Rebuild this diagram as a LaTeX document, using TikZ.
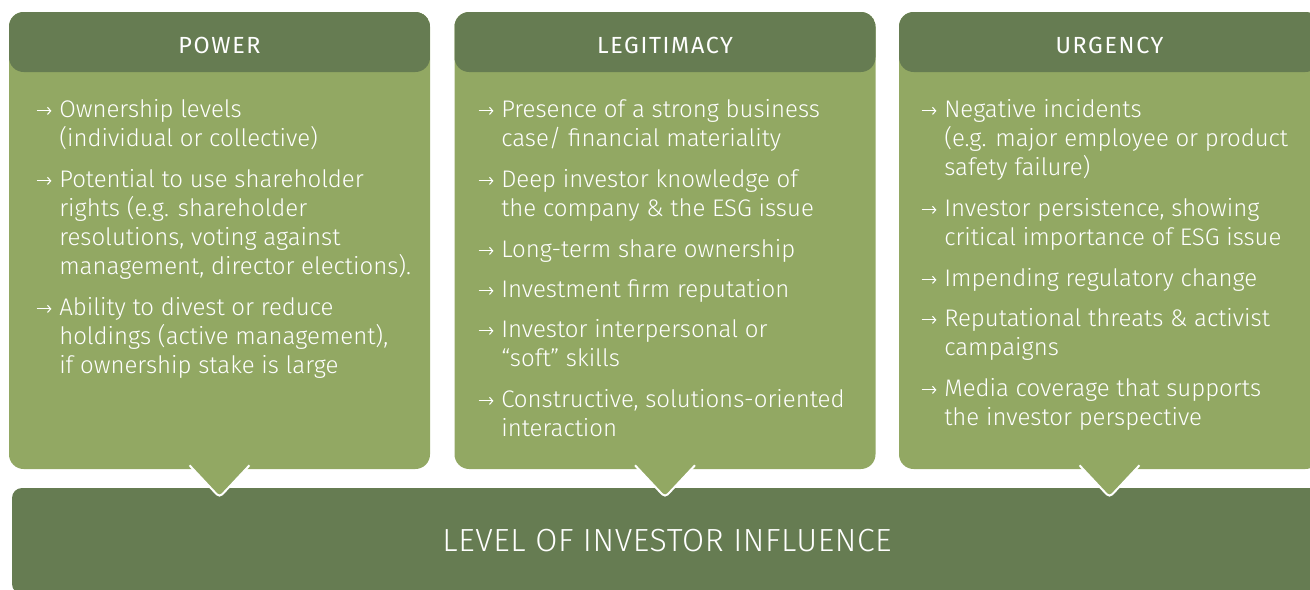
\documentclass[tikz,border=0pt]{standalone}
\usepackage{fontspec}
\setmainfont{Fira Sans}[UprightFont=* Light]
\newfontfamily\titlefont{Fira Sans}[LetterSpace=7]
\newfontfamily\barfont{Fira Sans}[UprightFont=* Light, LetterSpace=2]
\usepackage{tikz}
\usetikzlibrary{arrows.meta}
\definecolor{panellight}{RGB}{146,168,99}
\definecolor{paneldark}{RGB}{102,124,82}
\newcommand{\itemarrow}{\makebox[0pt][r]{\tikz[baseline=0pt]\draw[white, line width=0.8pt, -{Straight Barb[length=2.4pt, width=5.4pt]}] (0pt,4.6pt) -- (11pt,4.6pt);\hspace{5.5pt}}}
\tikzstyle{panel}=[fill=panellight, rounded corners=11pt, minimum width=315.75pt, minimum height=342.75pt, inner sep=0pt, path picture={\fill[paneldark] (path picture bounding box.north west) rectangle ([yshift=-45pt]path picture bounding box.north east);}]
\tikzstyle{pointer}=[fill=panellight, draw=white, line width=1.5pt, rounded corners=3pt]
\tikzstyle{title}=[text=white, inner sep=0pt, font=\titlefont\fontsize{17.5pt}{20pt}\selectfont]
\tikzstyle{item}=[anchor=base west, text=white, inner sep=0pt, align=left, font=\fontsize{18pt}{21.75pt}\selectfont]
\tikzstyle{bar}=[fill=paneldark, rounded corners=7.5pt, minimum width=982.5pt, minimum height=79.5pt, inner sep=0pt, text=white, font=\barfont\fontsize{24pt}{28pt}\selectfont]

\begin{document}
\begin{tikzpicture}[x=0.75pt, y=-0.75pt]
		\useasboundingbox (0,0) rectangle (1310,589);
		\begin{scope}
			\node (influence) at (667,541)[bar] {LEVEL OF INVESTOR INFLUENCE};
		\end{scope}
		\begin{scope}
			\node (power) at (219.5,240.5)[panel] {};
			\node (legitimacy) at (665,240.5)[panel] {};
			\node (urgency) at (1109.5,240.5)[panel] {};
			\path [pointer] ([xshift=-22.5pt, yshift=3pt]power.south) -- ([yshift=-21pt]power.south) -- ([xshift=22.5pt, yshift=3pt]power.south);
			\path [pointer] ([xshift=-22.5pt, yshift=3pt]legitimacy.south) -- ([yshift=-21pt]legitimacy.south) -- ([xshift=22.5pt, yshift=3pt]legitimacy.south);
			\path [pointer] ([xshift=-22.5pt, yshift=3pt]urgency.south) -- ([yshift=-21pt]urgency.south) -- ([xshift=22.5pt, yshift=3pt]urgency.south);
			\node (power title) at ([yshift=-25pt]power.north)[title] {POWER};
			\node (legitimacy title) at ([yshift=-25pt]legitimacy.north)[title] {LEGITIMACY};
			\node (urgency title) at ([yshift=-25pt]urgency.north)[title] {URGENCY};
		\end{scope}
		\begin{scope}
			\node (p1) at (59,146)[item] {\itemarrow Ownership levels\\(individual or collective)};
			\node (p2) at (59,274)[item] {\itemarrow Potential to use shareholder\\rights (e.g. shareholder\\resolutions, voting against\\management, director elections).};
			\node (p3) at (59,373)[item] {\itemarrow Ability to divest or reduce\\holdings (active management),\\if ownership stake is large};
		\end{scope}
		\begin{scope}
			\node (l1) at (501,146)[item] {\itemarrow Presence of a strong business\\case/ financial materiality};
			\node (l2) at (501,216)[item] {\itemarrow Deep investor knowledge of\\the company \& the ESG issue};
			\node (l3) at (501,257)[item] {\itemarrow Long-term share ownership};
			\node (l4) at (501,297)[item] {\itemarrow Investment firm reputation};
			\node (l5) at (501,366)[item] {\itemarrow Investor interpersonal or\\“soft” skills};
			\node (l6) at (501,436)[item] {\itemarrow Constructive, solutions-oriented\\interaction};
		\end{scope}
		\begin{scope}
			\node (u1) at (944,175)[item] {\itemarrow Negative incidents\\(e.g. major employee or product\\safety failure)};
			\node (u2) at (944,245)[item] {\itemarrow Investor persistence, showing\\critical importance of ESG issue};
			\node (u3) at (944,286)[item] {\itemarrow Impending regulatory change};
			\node (u4) at (944,355)[item] {\itemarrow Reputational threats \& activist\\campaigns};
			\node (u5) at (944,425)[item] {\itemarrow Media coverage that supports\\the investor perspective};
		\end{scope}
	\end{tikzpicture}
\end{document}
